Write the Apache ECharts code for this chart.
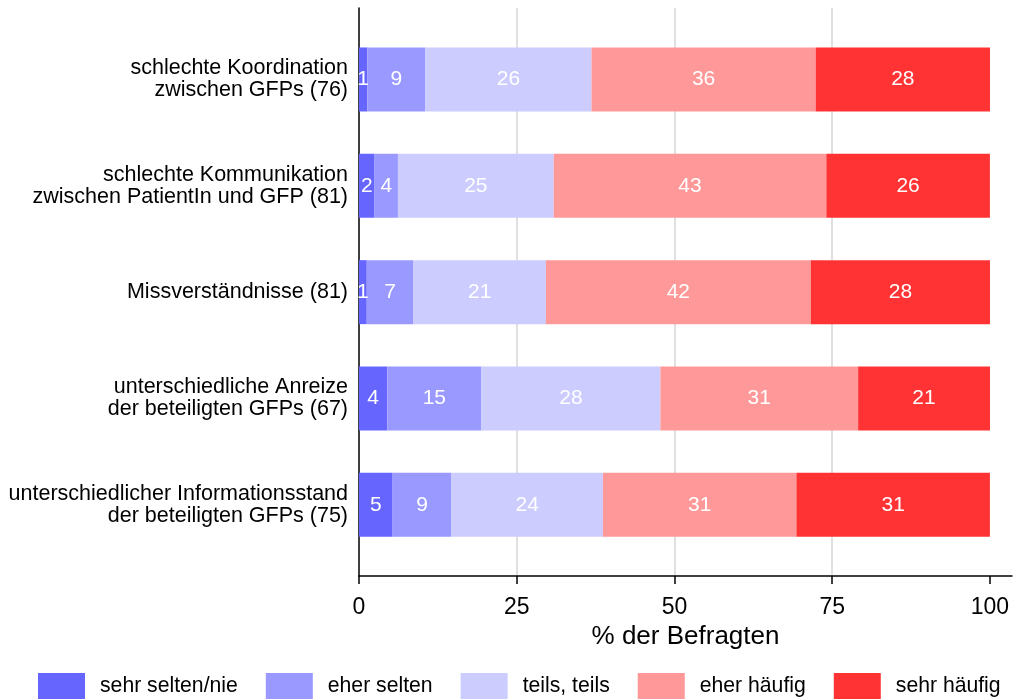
<!DOCTYPE html>
<html><head><meta charset="utf-8">
<script src="https://cdn.jsdelivr.net/npm/echarts@6/dist/echarts.min.js"></script>
<style>html,body{margin:0;padding:0;background:#fff}#c{width:1015px;height:699px}</style>
</head><body><div id="c"></div>
<script>
const categories = [
  'schlechte Koordination\nzwischen GFPs (76)',
  'schlechte Kommunikation\nzwischen PatientIn und GFP (81)',
  'Missverständnisse (81)',
  'unterschiedliche Anreize\nder beteiligten GFPs (67)',
  'unterschiedlicher Informationsstand\nder beteiligten GFPs (75)'
];
const seriesNames = ['sehr selten/nie', 'eher selten', 'teils, teils', 'eher häufig', 'sehr häufig'];
const sehrSelten = [1.32, 2.47, 1.23, 4.48, 5.33];
const eherSelten = [9.21, 3.70, 7.41, 14.93, 9.33];
const teilsTeils = [26.32, 24.69, 20.99, 28.36, 24.00];
const eherHaeufig = [35.53, 43.21, 41.98, 31.34, 30.67];
const sehrHaeufig = [27.63, 25.93, 28.40, 20.90, 30.67];
const xTicks = [0, 25, 50, 75, 100];
const colors = ['#6666FF', '#9999FF', '#CCCCFF', '#FF9999', '#FF3333'];

const allValues = [sehrSelten, eherSelten, teilsTeils, eherHaeufig, sehrHaeufig];
const FONT = 'Liberation Sans, Arial, sans-serif';
const chart = echarts.init(document.getElementById('c'), null, {renderer: 'canvas'});

chart.setOption({
  animation: false,
  color: colors,
  textStyle: {fontFamily: FONT},
  grid: [
    {left: 359, right: 3, top: 8, bottom: 699 - 576, containLabel: false},
    {left: 359, right: 3, top: 26.3, bottom: 699 - 558, containLabel: false}
  ],
  xAxis: [
    {
      gridIndex: 0, type: 'value', min: 0, max: 103.5,
      axisLine: {show: true, lineStyle: {color: '#000', width: 1.5}},
      axisTick: {show: true, length: 8, lineStyle: {color: '#000', width: 1.5}, customValues: xTicks},
      axisLabel: {show: true, fontSize: 23, color: '#000', margin: 20, fontFamily: FONT, customValues: xTicks},
      splitLine: {show: true, showMinLine: false, showMaxLine: false, lineStyle: {color: '#E0E0E0', width: 2}},
      name: '% der Befragten', nameLocation: 'middle', nameGap: 45,
      nameTextStyle: {fontSize: 26, color: '#000', fontFamily: FONT}
    },
    {
      gridIndex: 1, type: 'value', min: 0, max: 103.5, show: false
    }
  ],
  yAxis: [
    {
      gridIndex: 0, type: 'value', min: 0, max: 1,
      axisLine: {show: true, onZero: false, lineStyle: {color: '#000', width: 1.5}},
      axisTick: {show: false}, axisLabel: {show: false}, splitLine: {show: false}
    },
    {
      gridIndex: 1, type: 'category', data: categories, inverse: true,
      axisLine: {show: false}, axisTick: {show: false}, splitLine: {show: false},
      axisLabel: {fontSize: 21.5, lineHeight: 22, color: '#000', align: 'right', margin: 11, fontFamily: FONT, padding: [3, 0, 0, 0]}
    }
  ],
  legend: {
    left: 38, top: 673, padding: 0, itemWidth: 47, itemHeight: 26, itemGap: 28,
    icon: 'rect',
    textStyle: {fontSize: 21.2, color: '#000', fontFamily: FONT, padding: [2, 0, 0, 10]},
    data: seriesNames
  },
  series: seriesNames.map((name, i) => ({
    name: name, type: 'bar', stack: 'total', xAxisIndex: 1, yAxisIndex: 1,
    barWidth: 64,
    data: allValues[i],
    itemStyle: {color: colors[i]},
    label: {
      show: true, position: 'inside', color: '#fff', fontSize: 21, fontFamily: FONT,
      formatter: p => String(Math.round(p.value))
    }
  }))
});
</script>
</body></html>
